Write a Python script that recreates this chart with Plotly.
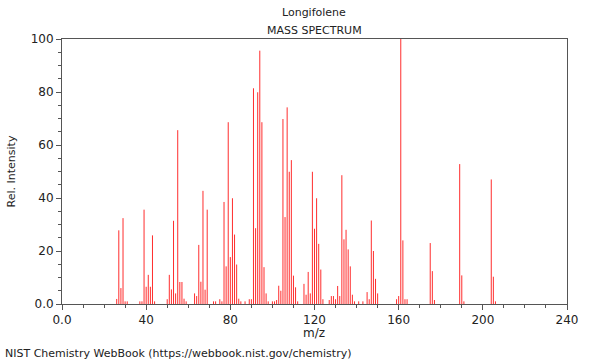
import plotly.graph_objects as go

mz = [26, 27, 28, 29, 30, 31,
      37, 38, 39, 40, 41, 42, 43, 44,
      50, 51, 52, 53, 54, 55, 56, 57, 58, 59,
      63, 64, 65, 66, 67, 68, 69, 72, 73, 75, 76,
      77, 78, 79, 80, 81, 82, 83, 84, 85, 87, 89, 90,
      91, 92, 93, 94, 95, 96, 97, 98, 100, 101, 102,
      103, 104, 105, 106, 107, 108, 109, 110, 111, 112,
      115, 116, 117, 118, 119, 120, 121, 122, 123, 124,
      127, 128, 129, 130, 131, 132, 133, 134, 135, 136, 137, 138, 139, 141, 143,
      145, 146, 147, 148, 149, 150,
      159, 160, 161, 162, 163, 164,
      175, 176, 177,
      189, 190, 191,
      204, 205, 206]
intensity = [1.9, 27.8, 6.0, 32.4, 1.0, 1.0,
             1.0, 1.0, 35.6, 6.5, 11.0, 6.5, 25.9, 1.0,
             1.8, 11.0, 5.5, 31.4, 4.0, 65.6, 8.3, 8.3, 2.0, 1.0,
             4.0, 3.0, 22.3, 8.4, 42.7, 5.4, 35.6, 1.0, 1.0, 1.8, 1.0,
             38.5, 14.2, 68.6, 17.7, 39.9, 26.2, 14.9, 2.0, 1.0, 1.0, 1.8, 1.8,
             81.4, 28.6, 79.9, 95.6, 68.6, 13.9, 4.0, 1.0, 1.0, 1.0, 1.5,
             6.9, 5.0, 69.8, 32.8, 74.2, 49.9, 54.3, 10.7, 6.3, 1.0,
             7.6, 3.5, 12.1, 4.0, 49.9, 28.4, 39.9, 22.7, 13.0, 1.8,
             1.5, 3.0, 3.0, 1.8, 6.8, 3.0, 48.6, 24.4, 28.0, 20.6, 14.2, 3.5, 1.0, 1.0, 1.0,
             4.5, 1.8, 31.5, 20.0, 9.5, 4.0,
             1.8, 3.0, 100.0, 24.0, 1.8, 1.8,
             23.0, 12.4, 1.5,
             52.8, 10.8, 1.0,
             47.0, 10.3, 1.0]

x_tickvals = [0, 40, 80, 120, 160, 200, 240]
x_ticktext = ["0.0", "40", "80", "120", "160", "200", "240"]
y_tickvals = [0, 20, 40, 60, 80, 100]
y_ticktext = ["0.0", "20", "40", "60", "80", "100"]

FONT = "DejaVu Sans"
AX = "#555555"
L, R, T, B = 62, 33, 39, 56
W, H = 600, 360
PW, PH = W - L - R, H - T - B


def px_to_paper(x, y):
    return (x - L) / PW, (H - B - y) / PH


# stick spectrum: one vertical segment per peak, built from the data lists
sx, sy = [], []
for m, v in zip(mz, intensity):
    sx += [m, m, None]
    sy += [0, v, None]

fig = go.Figure()
fig.add_trace(go.Scatter(x=sx, y=sy, mode="lines", hoverinfo="skip",
                         line=dict(color="rgb(255,45,45)", width=1)))

ax_common = dict(ticks="outside", ticklen=5, tickcolor=AX, showgrid=False,
                 zeroline=False, showline=True, linecolor=AX, linewidth=1, mirror=True,
                 automargin=False, tickfont=dict(size=12, family=FONT, color="#222222"))

fig.update_layout(
    width=W, height=H,
    margin=dict(l=L, r=R, t=T, b=B, autoexpand=False),
    paper_bgcolor="white", plot_bgcolor="white",
    showlegend=False, hovermode=False,
    font=dict(family=FONT, size=11, color="#222222"),
    xaxis=dict(range=[0, 240], tickvals=x_tickvals, ticktext=x_ticktext,
               minor=dict(dtick=10, ticks="outside", ticklen=3, tickcolor=AX),
               **ax_common),
    yaxis=dict(range=[0, 100], tickvals=y_tickvals, ticktext=y_ticktext,
               minor=dict(dtick=5, ticks="outside", ticklen=3, tickcolor=AX),
               title=dict(text="Rel. Intensity", font=dict(size=11, family=FONT), standoff=12),
               **ax_common),
)

anns = []
for text, x, y, anchor, size in [("Longifolene", 314, 12, "center", 11),
                                 ("MASS SPECTRUM", 314, 30, "center", 11),
                                 ("m/z", 314, 333, "center", 12),
                                 ("NIST Chemistry WebBook (https://webbook.nist.gov/chemistry)", 3, 353, "left", 11)]:
    px, py = px_to_paper(x, y)
    anns.append(dict(text=text, x=px, y=py, xref="paper", yref="paper", showarrow=False,
                     xanchor=anchor, yanchor="middle", font=dict(size=size, family=FONT, color="#222222")))
fig.update_layout(annotations=anns)

fig.write_html("out.html", config={"displayModeBar": False, "staticPlot": True},
               post_script="document.body.style.margin='0';document.body.style.overflow='hidden';")
